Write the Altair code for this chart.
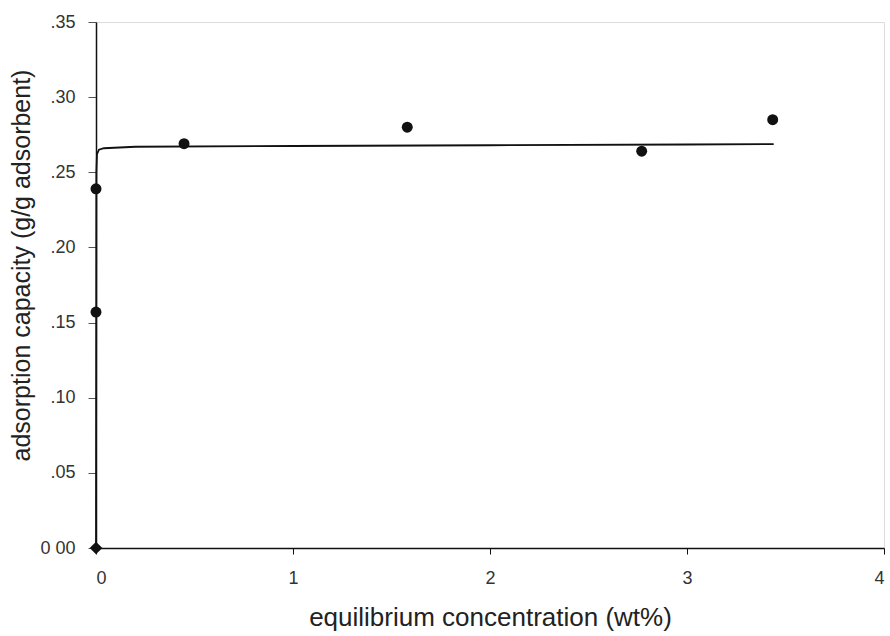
import altair as alt
import pandas as pd

# Experimental points
pt_x = [0.0, 0.0, 0.447, 1.58, 2.77, 3.435]
pt_y = [0.157, 0.239, 0.269, 0.280, 0.264, 0.285]
# Origin point (diamond)
org_x = [0.0]
org_y = [0.0]
# Fitted curve
fit_x = [0.0, 0.002, 0.005, 0.015, 0.04, 0.2, 1.0, 2.0, 3.0, 3.44]
fit_y = [0.0, 0.250, 0.262, 0.265, 0.266, 0.267, 0.2675, 0.268, 0.2685, 0.2688]

x_ticks = [0, 1, 2, 3, 4]
y_ticks = [0.0, 0.05, 0.10, 0.15, 0.20, 0.25, 0.30, 0.35]

pts = pd.DataFrame({"x": pt_x, "y": pt_y})
org = pd.DataFrame({"x": org_x, "y": org_y})
fit = pd.DataFrame({"x": fit_x, "y": fit_y})

FONT = "Liberation Sans"

xscale = alt.Scale(domain=[0, 4], nice=False, zero=False)
yscale = alt.Scale(domain=[0, 0.35], nice=False, zero=False)

xaxis = alt.Axis(
    values=x_ticks, format="d", title="equilibrium concentration (wt%)",
    grid=False, domainColor="#111", domainWidth=1.5, tickColor="#111",
    tickSize=6, labelFontSize=18, labelColor="#333", labelFont=FONT,
    labelPadding=15, titleFont=FONT, titleFontSize=26, titleFontWeight="normal",
    titleColor="#222", titlePadding=17,
)
yaxis = alt.Axis(
    values=y_ticks, title="adsorption capacity (g/g adsorbent)",
    labelExpr="datum.value == 0 ? '0 00' : replace(format(datum.value, '.2f'), '0.', '.')",
    grid=False, domainColor="#111", domainWidth=1.5, tickColor="#555",
    tickSize=8, labelFontSize=18, labelColor="#333", labelFont=FONT,
    labelPadding=13, titleFont=FONT, titleFontSize=25, titleFontWeight="normal",
    titleColor="#222", titleX=-62, titleY=243,
)

line = alt.Chart(fit).mark_line(color="#111", strokeWidth=1.8, clip=False).encode(
    x=alt.X("x:Q", scale=xscale, axis=xaxis),
    y=alt.Y("y:Q", scale=yscale, axis=yaxis),
)
dots = alt.Chart(pts).mark_point(filled=True, shape="circle", size=120, color="#111", opacity=1).encode(
    x="x:Q", y="y:Q"
)
dia = alt.Chart(org).mark_point(filled=True, shape="diamond", size=160, color="#111", opacity=1).encode(
    x="x:Q", y="y:Q"
)

chart = alt.layer(line, dots, dia).properties(
    width=788, height=526,
    autosize=alt.AutoSizeParams(type="none"),
    padding={"left": 96, "top": 22, "right": 6, "bottom": 88},
).configure_view(stroke=None).configure(background="white")

chart.save("out.html", embed_options={"renderer": "svg", "actions": False})
